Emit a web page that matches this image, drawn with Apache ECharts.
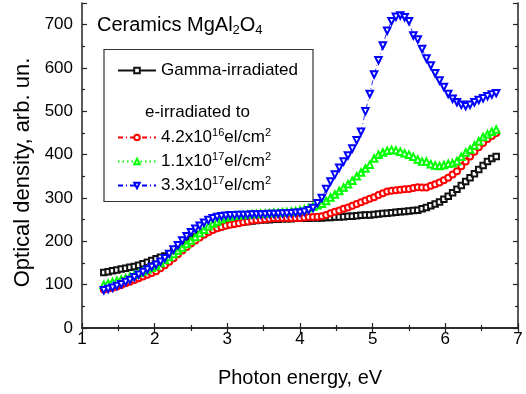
<!DOCTYPE html>
<html>
<head>
<meta charset="utf-8">
<script src="https://cdn.jsdelivr.net/npm/echarts@6/dist/echarts.min.js"></script>
<style>
  html, body { margin: 0; padding: 0; background: #fff; }
  #chart { width: 526px; height: 394px; }
</style>
</head>
<body>
<div id="chart"></div>
<script>
// photon energy, eV
const energy = [
  1.30, 1.36, 1.42, 1.48, 1.54, 1.60, 1.66, 1.72, 1.78, 1.84,
  1.90, 1.96, 2.02, 2.08, 2.14, 2.20, 2.26, 2.32, 2.38, 2.44,
  2.50, 2.56, 2.62, 2.68, 2.74, 2.80, 2.86, 2.92, 2.98, 3.04,
  3.10, 3.16, 3.22, 3.28, 3.34, 3.40, 3.46, 3.52, 3.58, 3.64,
  3.70, 3.76, 3.82, 3.88, 3.94, 4.00, 4.06, 4.12, 4.18, 4.24,
  4.30, 4.36, 4.42, 4.48, 4.54, 4.60, 4.66, 4.72, 4.78, 4.84,
  4.90, 4.96, 5.02, 5.08, 5.14, 5.20, 5.26, 5.32, 5.38, 5.44,
  5.50, 5.56, 5.62, 5.68, 5.74, 5.80, 5.86, 5.92, 5.98, 6.04,
  6.10, 6.16, 6.22, 6.28, 6.34, 6.40, 6.46, 6.52, 6.58, 6.64,
  6.70
]

// optical density, arb. un.
const gammaIrr = [
  128, 130, 132, 134, 136, 138, 140, 142, 145, 148,
  152, 156, 160, 163, 166, 170, 176, 183, 190, 197,
  204, 210, 216, 221, 225, 229, 232, 235, 238, 240,
  242, 244, 245, 246, 247, 248, 249, 250, 250, 251,
  251, 252, 252, 252, 253, 253, 253, 253, 254, 254,
  254, 255, 255, 256, 256, 257, 258, 258, 259, 260,
  261, 261, 262, 263, 264, 265, 266, 267, 268, 269,
  270, 271, 272, 275, 278, 282, 286, 291, 297, 304,
  312, 320, 329, 338, 347, 356, 366, 375, 384, 391,
  396
]

const e42e16 = [
  89, 91, 93, 96, 99, 103, 107, 111, 115, 119,
  123, 127, 131, 138, 145, 153, 161, 170, 179, 187,
  195, 202, 209, 215, 221, 226, 230, 233, 236, 238,
  240, 242, 244, 246, 248, 249, 250, 251, 252, 253,
  253, 254, 254, 254, 254, 254, 255, 256, 256, 257,
  258, 261, 265, 268, 271, 275, 278, 282, 286, 290,
  294, 298, 302, 307, 311, 315, 317, 318, 319, 320,
  321, 323, 325, 324, 324, 328, 332, 336, 341, 347,
  354, 362, 373, 384, 396, 407, 417, 427, 436, 443,
  450
]

const e11e17 = [
  100, 103, 106, 109, 112, 115, 119, 123, 127, 131,
  135, 139, 143, 150, 157, 164, 171, 179, 186, 194,
  202, 210, 219, 227, 235, 241, 246, 251, 255, 257,
  259, 260, 261, 262, 263, 263, 264, 264, 265, 266,
  266, 267, 268, 269, 270, 272, 274, 277, 280, 283,
  287, 293, 301, 308, 316, 324, 332, 340, 350, 359,
  368, 377, 391, 400, 405, 409, 411, 410, 407, 403,
  400, 395, 389, 384, 384, 378, 375, 374, 376, 379,
  380, 385, 395, 405, 412, 421, 431, 441, 447, 453,
  458
]

const e33e17 = [
  87, 90, 93, 97, 101, 106, 111, 117, 123, 129,
  135, 141, 146, 153, 161, 171, 181, 191, 202, 212,
  221, 229, 236, 243, 249, 253, 256, 258, 259, 260,
  260, 261, 261, 261, 262, 262, 262, 262, 263, 263,
  263, 264, 264, 265, 266, 266, 268, 272, 277, 288,
  300, 321, 338, 354, 370, 384, 398, 414, 433, 453,
  500, 540, 585, 618, 652, 686, 708, 718, 721, 717,
  708, 675, 666, 644, 622, 606, 588, 571, 556, 540,
  529, 521, 515, 512, 515, 521, 526, 530, 535, 539,
  542
]

const FONT = 'Liberation Sans, Arial, sans-serif'

const seriesNames = ['Gamma-irradiated', 'e42e16', 'e11e17', 'e33e17']
const legendLabels = {
  'Gamma-irradiated': 'Gamma-irradiated',
  e42e16: '{n|4.2x10}{s|16}{n|el/cm}{s|2}',
  e11e17: '{n|1.1x10}{s|17}{n|el/cm}{s|2}',
  e33e17: '{n|3.3x10}{s|17}{n|el/cm}{s|2}'
}

const toPoints = vals => energy.map((e, i) => [e, vals[i]])

const chart = echarts.init(document.getElementById('chart'))

const legendText = {
  fontFamily: FONT,
  fontSize: 17,
  color: '#000',
  rich: {
    n: { fontFamily: FONT, fontSize: 17, color: '#000' },
    s: { fontFamily: FONT, fontSize: 11, color: '#000', padding: [0, 0, 10, 0] }
  }
}

const axisCommon = {
  axisLine: { show: true, lineStyle: { color: '#222', width: 1.5 } },
  axisTick: { show: true, inside: true, length: 5, lineStyle: { color: '#222', width: 1.2 } },
  minorTick: { show: true, splitNumber: 2, length: 3, lineStyle: { color: '#222', width: 1.2 } },
  splitLine: { show: false }
}

const option = {
  animation: false,
  backgroundColor: '#fff',
  title: {
    text: '{t|Ceramics MgAl}{b|2}{t|O}{b|4}',
    left: 97,
    top: 14,
    padding: 0,
    textStyle: {
      fontWeight: 'normal',
      rich: {
        t: { fontFamily: FONT, fontSize: 20, fontWeight: 'normal', color: '#000' },
        b: { fontFamily: FONT, fontSize: 13, fontWeight: 'normal', color: '#000', padding: [10, 0, 0, 0] }
      }
    }
  },
  grid: { left: 82, right: 8, top: 3, bottom: 66 },
  legend: [
    {
      data: ['Gamma-irradiated'],
      orient: 'vertical',
      left: 117,
      top: 62,
      padding: 0,
      itemWidth: 38,
      itemHeight: 7,
      selectedMode: false,
      textStyle: legendText
    },
    {
      data: ['e42e16', 'e11e17', 'e33e17'],
      orient: 'vertical',
      left: 117,
      top: 127,
      padding: 0,
      itemGap: 5,
      itemWidth: 38,
      itemHeight: 7,
      selectedMode: false,
      formatter: name => legendLabels[name],
      textStyle: legendText
    }
  ],
  graphic: [
    {
      type: 'rect',
      shape: { x: 104, y: 49.5, width: 209, height: 152 },
      style: { fill: 'none', stroke: '#333', lineWidth: 1.2 },
      z: 10
    },
    {
      type: 'text',
      left: 145,
      top: 104,
      style: { text: 'e-irradiated to', font: '17px ' + FONT, fill: '#000' },
      z: 10
    }
  ],
  xAxis: [
    Object.assign({}, axisCommon, {
      type: 'value',
      min: 1,
      max: 7,
      interval: 1,
      name: 'Photon energy, eV',
      nameLocation: 'middle',
      nameGap: 40,
      nameTextStyle: { fontFamily: FONT, fontSize: 20, color: '#000' },
      axisLabel: { fontFamily: FONT, fontSize: 17, color: '#000', margin: 3 }
    }),
    Object.assign({}, axisCommon, {
      type: 'value',
      position: 'top',
      min: 1,
      max: 7,
      interval: 1,
      axisLabel: { show: false }
    })
  ],
  yAxis: [
    Object.assign({}, axisCommon, {
      type: 'value',
      min: 0,
      max: 750,
      interval: 100,
      name: 'Optical density, arb. un.',
      nameLocation: 'middle',
      nameGap: 47,
      nameTextStyle: { fontFamily: FONT, fontSize: 22, color: '#000', padding: [0, 14, 0, 0] },
      axisLabel: { fontFamily: FONT, fontSize: 17, color: '#000', margin: 9, showMaxLabel: false }
    }),
    Object.assign({}, axisCommon, {
      type: 'value',
      position: 'right',
      min: 0,
      max: 750,
      interval: 100,
      axisLabel: { show: false }
    })
  ],
  series: [
    {
      name: seriesNames[0],
      type: 'line',
      data: toPoints(gammaIrr),
      symbol: 'emptyRect',
      symbolSize: 5.5,
      color: '#111',
      lineStyle: { color: '#111', width: 0.8 },
      itemStyle: { color: '#111', borderWidth: 0.9 }
    },
    {
      name: seriesNames[1],
      type: 'line',
      data: toPoints(e42e16),
      symbol: 'emptyCircle',
      symbolSize: 6,
      color: '#ff0000',
      lineStyle: { color: '#ff0000', width: 0.8, type: [5, 3, 1, 3] },
      itemStyle: { color: '#ff0000', borderWidth: 0.9 }
    },
    {
      name: seriesNames[2],
      type: 'line',
      data: toPoints(e11e17),
      symbol: 'emptyTriangle',
      symbolSize: 6.5,
      color: '#00ff00',
      lineStyle: { color: '#00ff00', width: 0.8, type: [1.5, 3] },
      itemStyle: { color: '#00ff00', borderWidth: 0.9 }
    },
    {
      name: seriesNames[3],
      type: 'line',
      data: toPoints(e33e17),
      symbol: 'emptyTriangle',
      symbolRotate: 180,
      symbolSize: 6.5,
      color: '#0000ff',
      lineStyle: { color: '#0000ff', width: 0.8, type: [5, 3, 1, 3] },
      itemStyle: { color: '#0000ff', borderWidth: 0.9 }
    }
  ]
}

chart.setOption(option)
</script>
</body>
</html>
